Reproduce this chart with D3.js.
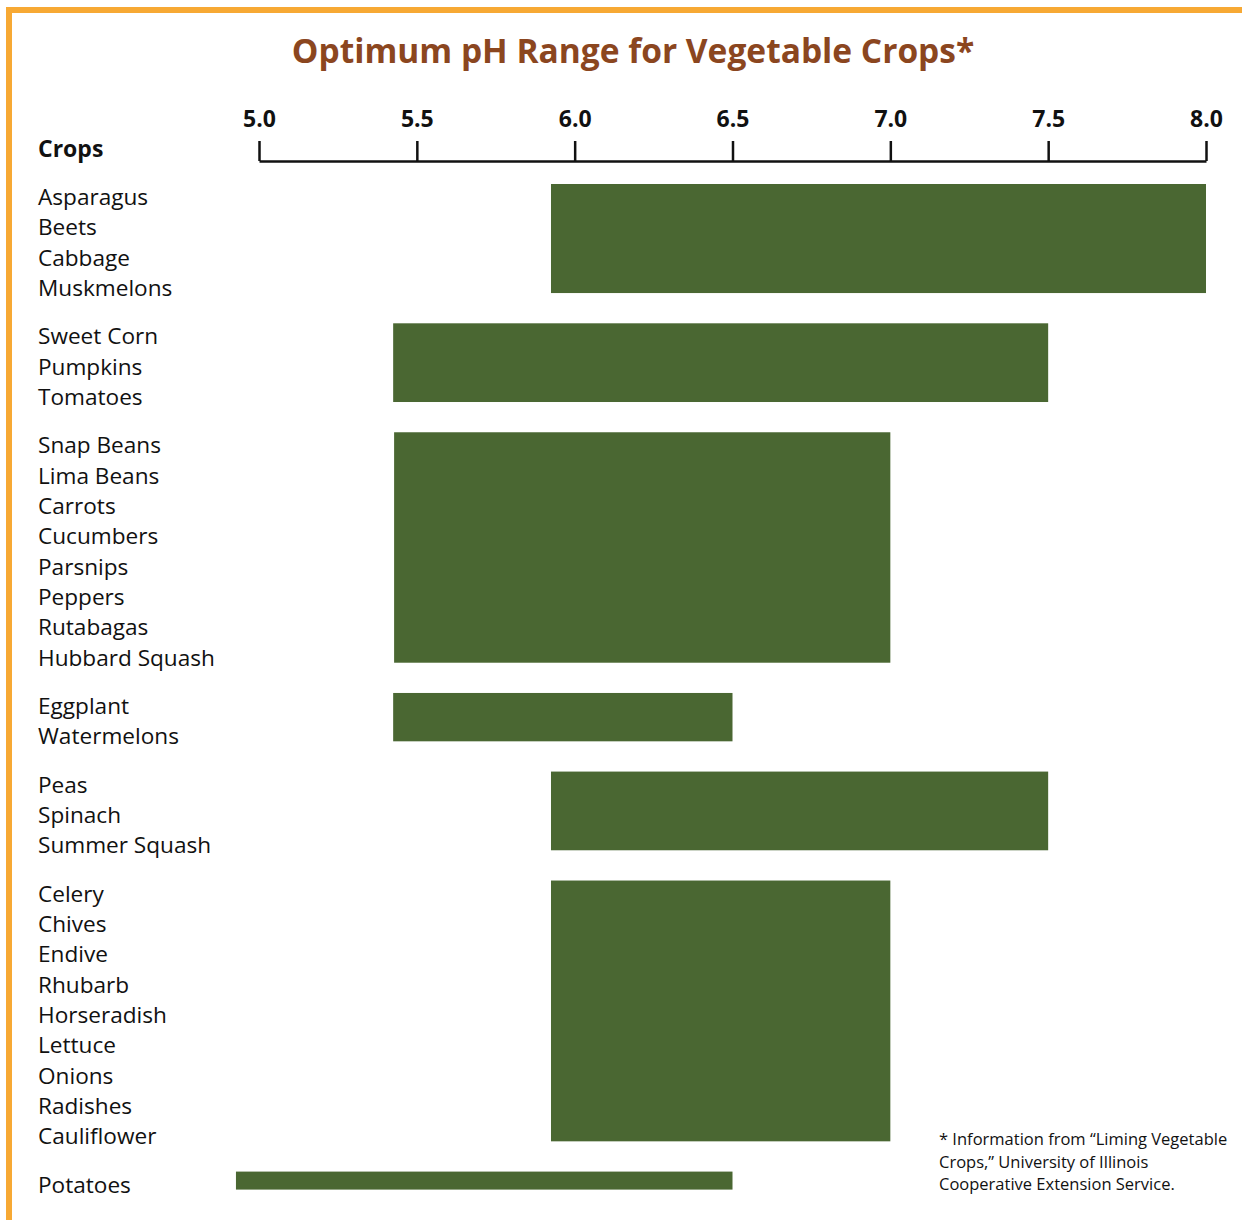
<!DOCTYPE html>
<html>
<head>
<meta charset="utf-8">
<script src="https://cdn.jsdelivr.net/npm/d3@7"></script>
<style>
  body { margin: 0; background: #fff; }
  svg { display: block; }
  text { font-family: "Open Sans", sans-serif; fill: #111; }
</style>
</head>
<body>
<svg id="chart" width="1242" height="1220"></svg>
<script>
  // crop groups (one bar per group) and their pH ranges
  const cropGroups = [
    ["Asparagus", "Beets", "Cabbage", "Muskmelons"],
    ["Sweet Corn", "Pumpkins", "Tomatoes"],
    ["Snap Beans", "Lima Beans", "Carrots", "Cucumbers", "Parsnips", "Peppers", "Rutabagas", "Hubbard Squash"],
    ["Eggplant", "Watermelons"],
    ["Peas", "Spinach", "Summer Squash"],
    ["Celery", "Chives", "Endive", "Rhubarb", "Horseradish", "Lettuce", "Onions", "Radishes", "Cauliflower"],
    ["Potatoes"]
  ];
  const phLow = [5.925, 5.425, 5.428, 5.425, 5.925, 5.925, 4.927];
  const phHigh = [8.0, 7.5, 7.0, 6.5, 7.5, 7.0, 6.5];
  const tickValues = [5.0, 5.5, 6.0, 6.5, 7.0, 7.5, 8.0];

  const title = "Optimum pH Range for Vegetable Crops*";
  const footnote = [
    "* Information from \u201cLiming Vegetable",
    "Crops,\u201d University of Illinois",
    "Cooperative Extension Service."
  ];

  const orange = "#f7a934";
  const green = "#4a6732";
  const brown = "#8b461f";

  const svg = d3.select("#chart");

  // orange frame (top + left only)
  svg.append("path")
    .attr("d", "M9,1220V10H1242")
    .attr("fill", "none")
    .attr("stroke", orange)
    .attr("stroke-width", 6);

  svg.append("text")
    .attr("x", 633).attr("y", 63)
    .attr("text-anchor", "middle")
    .style("font-size", "33.5px")
    .style("font-weight", 700)
    .style("fill", brown)
    .text(title);

  const x = d3.scaleLinear().domain([5, 8]).range([259, 1206]);

  // slot index: row number plus a fractional gap between groups
  const y = d3.scaleLinear().domain([0, 1]).range([205, 235.35]);
  const groupGap = 0.59;

  const axis = d3.axisTop(x)
    .tickValues(tickValues)
    .tickFormat(d3.format(".1f"))
    .tickSize(20)
    .tickSizeOuter(0)
    .tickPadding(14);

  const gAxis = svg.append("g")
    .attr("transform", "translate(0,161)")
    .call(axis);
  gAxis.select(".domain").attr("stroke", "#111").attr("stroke-width", 2.5);
  gAxis.selectAll(".tick line").attr("stroke", "#111").attr("stroke-width", 2.5);
  gAxis.selectAll(".tick text")
    .attr("fill", "#111")
    .style("font-family", "'Open Sans', sans-serif")
    .style("font-size", "23px")
    .style("font-weight", 700);

  svg.append("text")
    .attr("x", 38).attr("y", 157)
    .style("font-size", "23px")
    .style("font-weight", 700)
    .text("Crops");

  let row = 0;
  const layout = cropGroups.map((crops, gi) => {
    const slots = crops.map((c, i) => row + i + gi * groupGap);
    row += crops.length;
    return { crops, slots, lo: phLow[gi], hi: phHigh[gi] };
  });

  const groups = svg.selectAll("g.crop-group")
    .data(layout)
    .join("g")
    .attr("class", "crop-group");

  groups.append("rect")
    .attr("x", d => x(d.lo))
    .attr("width", d => x(d.hi) - x(d.lo))
    .attr("y", d => y(d.slots[0]) - 21)
    .attr("height", d => y(d.slots[d.slots.length - 1]) - 3 - (y(d.slots[0]) - 21))
    .attr("fill", green);

  groups.selectAll("text")
    .data(d => d.crops.map((c, i) => ({ name: c, slot: d.slots[i] })))
    .join("text")
    .attr("x", 38)
    .attr("y", d => y(d.slot))
    .style("font-size", "22.6px")
    .text(d => d.name);

  svg.append("g")
    .selectAll("text")
    .data(footnote)
    .join("text")
    .attr("x", 939)
    .attr("y", (d, i) => 1145 + i * 22.5)
    .style("font-size", "16.5px")
    .text(d => d);
</script>
</body>
</html>
